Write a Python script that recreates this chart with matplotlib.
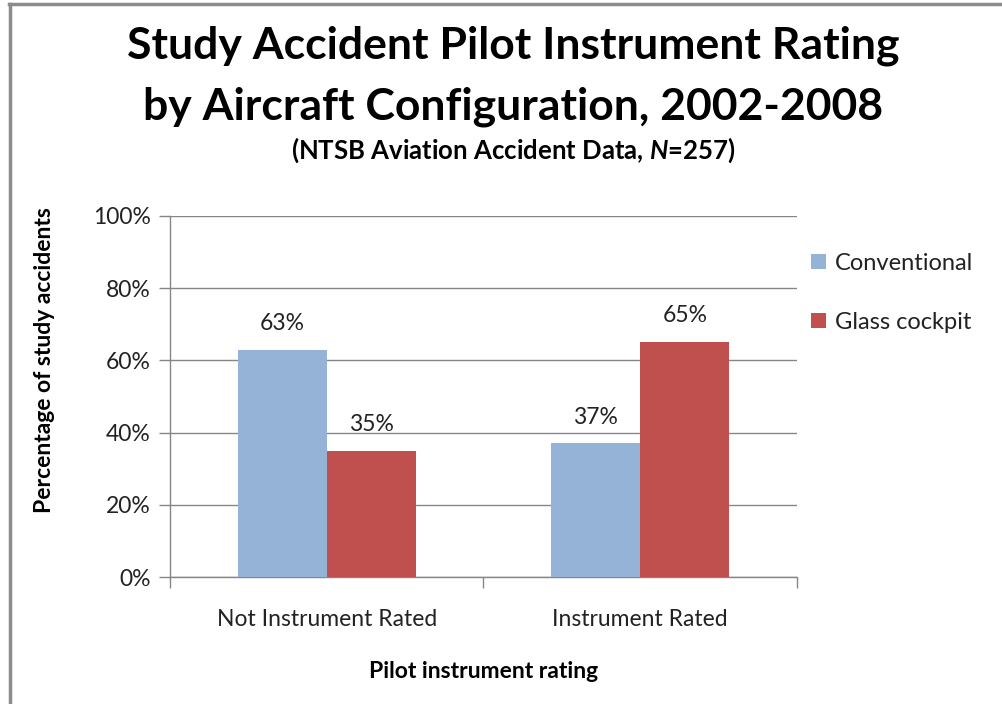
import matplotlib.pyplot as plt
import numpy as np
from matplotlib.lines import Line2D

categorie = ["Not Instrument Rated", "Instrument Rated"]
serie = ["Conventional", "Glass cockpit"]
conventional = [63, 37]
glass_cockpit = [35, 65]
colori = ["#95B3D7", "#C0504D"]
yticks = [0, 20, 40, 60, 80, 100]

FONT = ["Lato", "DejaVu Sans"]
plt.rcParams["font.family"] = FONT
plt.rcParams["mathtext.fontset"] = "custom"
plt.rcParams["mathtext.bfit"] = "Lato:italic:bold"

fig = plt.figure(figsize=(10.03, 7.04), dpi=100)
fig.patch.set_facecolor("white")

# cornice grigia (alto e sinistra)
fig.add_artist(Line2D([0.009, 1.0], [0.9945, 0.9945], color="#8c8c8c", linewidth=2.5,
                      transform=fig.transFigure))
fig.add_artist(Line2D([0.0095, 0.0095], [0.0, 0.9945], color="#8c8c8c", linewidth=2.5,
                      transform=fig.transFigure))

ax = fig.add_axes([170 / 1003, 1 - 577 / 704, (797 - 170) / 1003, (577 - 216) / 704])

x = np.arange(len(categorie))
w = 0.284
valori = [conventional, glass_cockpit]
for i, (nome, vals) in enumerate(zip(serie, valori)):
    pos = x + (i - 0.5) * w
    ax.bar(pos, vals, width=w, color=colori[i], label=nome, zorder=3)
    for p, v in zip(pos, vals):
        ax.text(p, v + 7.3, f"{v}%", ha="center", va="center", fontsize=16.5,
                color="#222222", zorder=4)

ax.set_xlim(-0.5, 1.5)
ax.set_ylim(0, 100)
ax.set_yticks(yticks)
ax.set_yticklabels([f"{t}%" for t in yticks], fontsize=16.5, color="#222222")
ax.set_xticks([-0.5, 0.5, 1.5])
ax.set_xticklabels([])
ax.set_xticks(x, minor=True)
ax.set_xticklabels(categorie, minor=True, fontsize=16.5, color="#222222")
ax.tick_params(axis="x", which="minor", length=0, pad=23)
ax.tick_params(axis="x", which="major", length=8, color="#868686", width=1)
ax.tick_params(axis="y", length=8, color="#868686", width=1, pad=6)
ax.grid(axis="y", color="#868686", linewidth=1, zorder=0)

for lato in ["top", "right"]:
    ax.spines[lato].set_visible(False)
for lato in ["left", "bottom"]:
    ax.spines[lato].set_color("#868686")
    ax.spines[lato].set_linewidth(1)

ax.set_ylabel("Percentage of study accidents", fontsize=16.5, fontweight="bold")
ax.yaxis.set_label_coords(-0.183, 0.60)
ax.set_xlabel("Pilot instrument rating", fontsize=16.5, fontweight="bold", labelpad=22)

ax.legend(loc="upper left", bbox_to_anchor=(0.989, 0.957), frameon=False, fontsize=17,
          handlelength=0.6, handleheight=0.6, handletextpad=0.4, labelspacing=1.62,
          labelcolor="#222222")

fig.text(0.512, 0.935, "Study Accident Pilot Instrument Rating", ha="center", va="center",
         fontsize=32, fontweight="bold")
fig.text(0.512, 0.849, "by Aircraft Configuration, 2002-2008", ha="center", va="center",
         fontsize=32, fontweight="bold")
fig.text(0.512, 0.787, "(NTSB Aviation Accident Data, $\\boldsymbol{N}$=257)", ha="center",
         va="center", fontsize=18.5, fontweight="bold")

plt.savefig("out.png", dpi=100)
